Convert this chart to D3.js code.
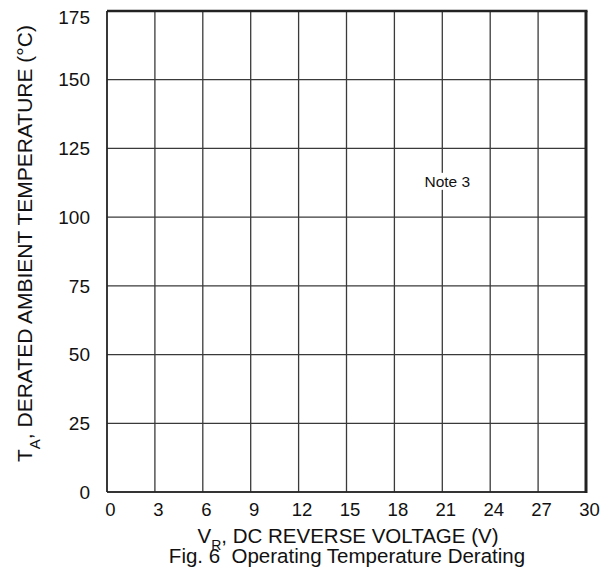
<!DOCTYPE html>
<html><head><meta charset="utf-8">
<script src="https://cdn.jsdelivr.net/npm/d3@7"></script>
<style>body{margin:0;background:#fff}svg{display:block}text{font-family:"Liberation Sans",Arial,sans-serif;fill:#111}</style>
</head><body><svg id="c" width="605" height="570"></svg>
<script>
const xTicks = [0,3,6,9,12,15,18,21,24,27,30];
const yTicks = [0,25,50,75,100,125,150,175];
const xDomain = [0,30];
const yDomain = [0,175];
const noteLabel = "Note 3";
const notePos = [21, 113];
const xTitle = ["V", "R", ", DC REVERSE VOLTAGE (V)"];
const yTitle = ["T", "A", ", DERATED AMBIENT TEMPERATURE (°C)"];
const figTitle = "Fig. 6  Operating Temperature Derating";

const svg = d3.select("#c");
const L=107, R=586, T=11, B=492;
const x = d3.scaleLinear().domain(xDomain).range([L,R]);
const y = d3.scaleLinear().domain(yDomain).range([B,T]);

// grid
svg.append("g").selectAll("line").data(xTicks).join("line")
  .attr("x1",d=>x(d)).attr("x2",d=>x(d)).attr("y1",T).attr("y2",B)
  .attr("stroke","#3a3a3a").attr("stroke-width",1.3);
svg.append("g").selectAll("line").data(yTicks).join("line")
  .attr("x1",L).attr("x2",R).attr("y1",d=>y(d)).attr("y2",d=>y(d))
  .attr("stroke","#3a3a3a").attr("stroke-width",1.3);
// frame
svg.append("line").attr("x1",L).attr("x2",R+1.5).attr("y1",T).attr("y2",T).attr("stroke","#222").attr("stroke-width",2.4);
svg.append("line").attr("x1",R).attr("x2",R).attr("y1",T).attr("y2",B+1).attr("stroke","#222").attr("stroke-width",3);
svg.append("line").attr("x1",L).attr("x2",L).attr("y1",T).attr("y2",B).attr("stroke","#222").attr("stroke-width",1.5);
svg.append("line").attr("x1",L).attr("x2",R).attr("y1",B).attr("y2",B).attr("stroke","#222").attr("stroke-width",1.6);

// axes tick labels via d3 axes
const xa = svg.append("g").attr("transform",`translate(0,${B})`)
  .call(d3.axisBottom(x).tickValues(xTicks).tickSize(0).tickPadding(11).tickFormat(d3.format("d")));
xa.attr("font-size",18.5).attr("font-family",null);
xa.select(".domain").remove();
xa.selectAll("text").attr("fill","#111").attr("dx",3);
const ya = svg.append("g").attr("transform",`translate(${L},0)`)
  .call(d3.axisLeft(y).tickValues(yTicks).tickSize(0).tickPadding(17).tickFormat(d3.format("d")));
ya.attr("font-size",19).attr("font-family",null);
ya.select(".domain").remove();
ya.selectAll("text").attr("fill","#111").attr("dy",d=>d===175?"0.68em":"0.33em");

// note
const ng = svg.append("g");
const nt = ng.append("text").attr("x",x(notePos[0])+5).attr("y",y(notePos[1])).attr("text-anchor","middle")
  .attr("dy","0.35em").attr("font-size",15.5).text(noteLabel);
const bb = nt.node().getBBox();
ng.insert("rect","text").attr("x",bb.x-1).attr("y",bb.y).attr("width",bb.width+2).attr("height",bb.height).attr("fill","#fff");

// x title
const xt = svg.append("text").attr("x",348).attr("y",543).attr("text-anchor","middle").attr("font-size",20.5);
xt.append("tspan").text(xTitle[0]);
xt.append("tspan").attr("dy",7).attr("font-size",14).text(xTitle[1]);
xt.append("tspan").attr("dy",-7).text(xTitle[2]);
// fig title
svg.append("text").attr("x",347).attr("y",563).attr("text-anchor","middle").attr("font-size",20.5).style("white-space","pre").text(figTitle);
// y title
const yt = svg.append("text").attr("transform","translate(32,462) rotate(-90)").attr("font-size",21);
yt.append("tspan").text(yTitle[0]);
yt.append("tspan").attr("dy",8).attr("font-size",15).text(yTitle[1]);
yt.append("tspan").attr("dy",-8).text(yTitle[2]);
</script></body></html>
